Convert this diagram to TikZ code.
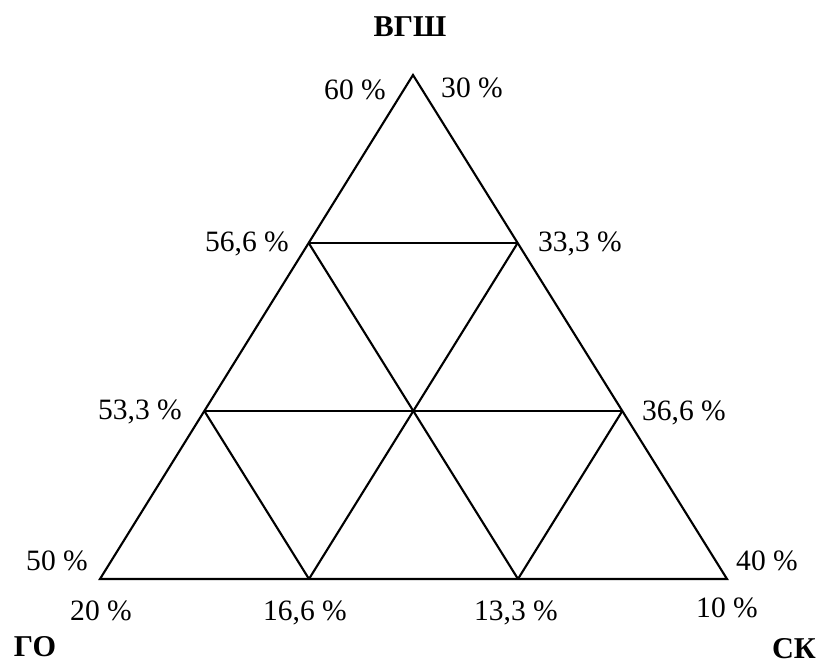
\documentclass[tikz,border=0pt]{standalone}
\usepackage{fontspec}
\setmainfont{Liberation Serif}
\usetikzlibrary{calc}
\tikzset{
  pct/.style={font=\fontsize{8.4}{10}\selectfont, anchor=base, inner sep=0pt},
  cornerlabel/.style={font=\fontsize{8.6}{10}\selectfont\bfseries, anchor=base, inner sep=0pt},
  gridline/.style={line width=0.6pt, line join=miter}
}
\begin{document}
\begin{tikzpicture}[x=0.01cm, y=-0.01cm]
  \useasboundingbox (0,0) rectangle (820,662);

  % corners of the triangle
  \coordinate (A) at (413,75);
  \coordinate (B) at (100,579);
  \coordinate (C) at (727,579);
  % division points on the sides
  \coordinate (ab1) at ($(A)!1/3!(B)$);
  \coordinate (ab2) at ($(A)!2/3!(B)$);
  \coordinate (ac1) at ($(A)!1/3!(C)$);
  \coordinate (ac2) at ($(A)!2/3!(C)$);
  \coordinate (bc1) at ($(B)!1/3!(C)$);
  \coordinate (bc2) at ($(B)!2/3!(C)$);

  % outline and grid
  \draw[gridline] (A) -- (B) -- (C) -- cycle;
  \draw[gridline] (ab1) -- (ac1);
  \draw[gridline] (ab2) -- (ac2);
  \draw[gridline] (bc1) -- (ac1);
  \draw[gridline] (bc1) -- (ab2);
  \draw[gridline] (bc2) -- (ac2);
  \draw[gridline] (bc2) -- (ab1);

  % corner names
  \node[cornerlabel] (vgsh) at (410,37) {ВГШ};
  \node[cornerlabel] (go) at (35,657) {ГО};
  \node[cornerlabel] (sk) at (794,659) {СК};

  % left side
  \node[pct] (l60) at (355,100) {60 \%};
  \node[pct] (l566) at (247,252) {56,6 \%};
  \node[pct] (l533) at (140,420) {53,3 \%};
  \node[pct] (l50) at (57,571) {50 \%};

  % right side
  \node[pct] (r30) at (472,98) {30 \%};
  \node[pct] (r333) at (580,252) {33,3 \%};
  \node[pct] (r366) at (684,421) {36,6 \%};
  \node[pct] (r40) at (767,571) {40 \%};

  % bottom side
  \node[pct] (b20) at (101,621) {20 \%};
  \node[pct] (b166) at (305,621) {16,6 \%};
  \node[pct] (b133) at (516,621) {13,3 \%};
  \node[pct] (b10) at (727,618) {10 \%};
\end{tikzpicture}
\end{document}
